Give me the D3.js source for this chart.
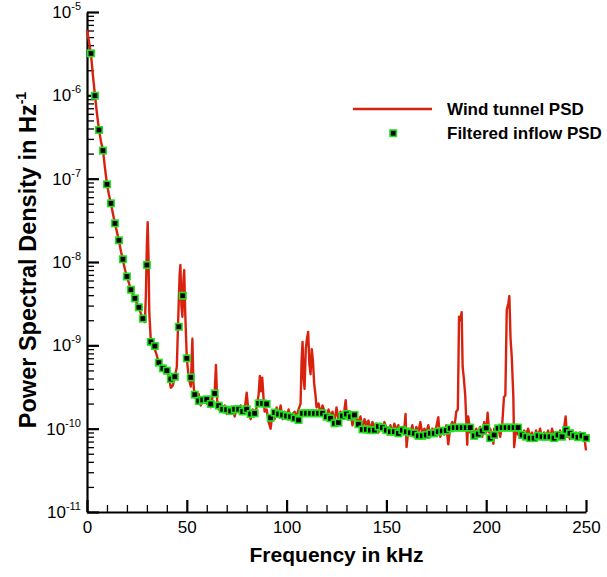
<!DOCTYPE html>
<html>
<head>
<meta charset="utf-8">
<script src="https://cdn.jsdelivr.net/npm/d3@7"></script>
<style>
  html, body { margin: 0; padding: 0; background: #fff; }
  svg { display: block; font-family: "Liberation Sans", Arial, Helvetica, sans-serif; }
  .ax path, .ax line { stroke: #000; }
</style>
</head>
<body>
<div id="chart"></div>
<script>
// Frequency (kHz) / PSD (Hz^-1) of the wind tunnel signal
const tunnelFreq = [
  0, 1, 2, 3, 4, 5, 6, 7, 8, 9, 10, 11, 12, 13, 14, 15, 16, 17, 18, 19, 20,
  21, 22, 23, 24, 25, 26, 27, 28, 29, 29.5, 30, 30.4, 30.8, 31.2, 32, 33, 34, 35, 36, 37,
  38, 39, 40, 41, 42, 43, 44, 45, 45.8, 46.4, 46.8, 47.3, 47.8, 48.3, 48.7, 49.2, 50, 51, 52,
  52.8, 53.3, 54, 55, 56, 57, 58, 59, 60, 61, 62, 63, 64, 64.6, 65.2, 66, 67, 68, 69, 70,
  71, 72, 73, 74, 75, 76, 77, 78, 79, 80, 81, 82, 83, 84, 85, 86, 86.6, 87.2, 87.8, 88.5,
  89, 90, 91, 92, 93, 94, 95, 96, 97, 98, 99, 100, 101, 102, 103, 104, 105, 106, 107, 107.5,
  108, 108.5, 109, 109.6, 110.2, 110.8, 111.4, 112, 112.6, 113.2, 113.8, 114.5, 115, 116, 117, 118, 119, 120,
  121, 122, 123, 124, 125, 126, 127, 128, 129, 129.6, 130.2, 131, 132, 133, 134, 135, 136, 137, 138, 139,
  140, 141, 142, 143, 144, 145, 146, 147, 148, 149, 150, 151, 152, 153, 154, 155, 156, 157, 158, 159,
  159.6, 160.1, 161, 162, 163, 164, 165, 166, 167, 168, 169, 170, 171, 172, 173, 174, 175, 176, 176.6, 177,
  178, 179, 180, 181, 182, 183, 184, 185, 185.8, 186.4, 187, 187.7, 188.2, 188.8, 189.5, 190.5, 191, 192, 193, 194,
  195, 196, 197, 198, 199, 200, 200.7, 201.5, 202, 203, 203.6, 204, 205, 206, 207, 208, 208.9, 209.6, 210.3, 211.1,
  211.6, 212.2, 212.8, 213.6, 214, 215, 216, 217, 218, 219, 220, 221, 222, 223, 224, 225, 226, 227, 228, 229,
  230, 231, 232, 233, 234, 235, 236, 237, 238, 239, 239.8, 240.5, 241, 242, 243, 244, 245, 246, 247, 248,
  249, 250
];
const tunnelPsd = [
  6.1e-6, 4.4e-6, 3.1e-6, 1.7e-6, 1.0e-6, 6.0e-7, 3.9e-7, 2.8e-7, 2.2e-7, 1.35e-7, 8.6e-8, 6.4e-8, 5.0e-8, 3.8e-8, 2.9e-8, 2.3e-8, 1.8e-8, 1.35e-8, 1.05e-8, 8.2e-9, 6.6e-9,
  5.6e-9, 4.6e-9, 4.1e-9, 3.6e-9, 3.2e-9, 2.8e-9, 2.4e-9, 2.1e-9, 1.9e-9, 4.0e-9, 1.6e-8, 3.0e-8, 1.2e-8, 2.5e-9, 1.1e-9, 9.5e-10, 9.0e-10, 7.5e-10, 6.0e-10, 5.6e-10,
  5.1e-10, 4.6e-10, 5.0e-10, 4.2e-10, 3.1e-10, 3.3e-10, 4.2e-10, 5.5e-10, 2.5e-9, 7.0e-9, 9.2e-9, 3.0e-9, 2.2e-9, 6.0e-9, 8.0e-9, 2.5e-9, 7.0e-10, 4.0e-10, 3.2e-10,
  1.2e-9, 3.5e-10, 2.4e-10, 2.2e-10, 2.6e-10, 1.9e-10, 2.3e-10, 2.1e-10, 2.0e-10, 2.4e-10, 1.8e-10, 2.5e-10, 2.8e-10, 5.8e-10, 2.2e-10, 1.7e-10, 2.0e-10, 1.6e-10, 1.9e-10, 1.5e-10,
  1.8e-10, 1.6e-10, 1.7e-10, 1.4e-10, 1.8e-10, 1.6e-10, 1.9e-10, 1.5e-10, 1.7e-10, 2.7e-10, 1.5e-10, 1.3e-10, 1.7e-10, 1.5e-10, 1.8e-10, 2.6e-10, 4.3e-10, 2.8e-10, 4.1e-10, 2.2e-10,
  1.6e-10, 1.7e-10, 1.2e-10, 1.0e-10, 1.6e-10, 1.3e-10, 1.8e-10, 1.4e-10, 1.9e-10, 1.3e-10, 1.6e-10, 1.4e-10, 1.7e-10, 1.3e-10, 1.5e-10, 1.6e-10, 1.4e-10, 1.7e-10, 2.0e-10, 6.5e-10,
  1.1e-9, 4.0e-10, 3.0e-10, 9.0e-10, 1.2e-9, 1.45e-9, 6.0e-10, 4.5e-10, 9.0e-10, 6.5e-10, 3.5e-10, 2.5e-10, 1.8e-10, 2.0e-10, 1.5e-10, 1.9e-10, 1.6e-10, 1.3e-10,
  1.7e-10, 1.4e-10, 1.6e-10, 1.2e-10, 1.8e-10, 1.3e-10, 1.6e-10, 1.4e-10, 1.7e-10, 2.2e-10, 1.4e-10, 1.3e-10, 1.6e-10, 1.1e-10, 1.5e-10, 1.3e-10, 1.2e-10, 1.4e-10, 1.0e-10, 1.3e-10,
  1.1e-10, 1.25e-10, 9.5e-11, 1.2e-10, 1.05e-10, 1.15e-10, 9.0e-11, 1.1e-10, 9.5e-11, 1.2e-10, 1.0e-10, 8.5e-11, 1.1e-10, 9.0e-11, 1.15e-10, 9.5e-11, 1.1e-10, 8.5e-11, 1.05e-10, 1.0e-10,
  1.5e-10, 6.0e-11, 1.0e-10, 9.0e-11, 1.1e-10, 8.0e-11, 1.05e-10, 9.0e-11, 1.2e-10, 8.5e-11, 1.0e-10, 9.0e-11, 1.1e-10, 8.0e-11, 1.0e-10, 9.0e-11, 1.05e-10, 1.37e-10, 9.0e-11, 8.0e-11,
  1.0e-10, 8.5e-11, 1.1e-10, 6.5e-11, 1.05e-10, 1.2e-10, 1.0e-10, 1.6e-10, 1.7e-10, 2.2e-9, 2.0e-9, 2.5e-9, 5.5e-10, 4.0e-10, 2.5e-10, 6.4e-11, 1.4e-10, 9.0e-11, 1.1e-10, 8.0e-11,
  1.0e-10, 8.5e-11, 1.05e-10, 8.0e-11, 1.2e-10, 9.0e-11, 1.55e-10, 9.0e-11, 1.0e-10, 8.0e-11, 6.6e-11, 1.0e-10, 9.0e-11, 1.05e-10, 8.0e-11, 1.1e-10, 2.4e-10, 2.5e-10, 2.65e-9, 3.2e-9,
  3.9e-9, 1.2e-9, 7.3e-10, 2.4e-10, 6.0e-11, 1.0e-10, 8.5e-11, 1.0e-10, 8.0e-11, 9.5e-11, 8.5e-11, 1.0e-10, 8.0e-11, 9.0e-11, 7.5e-11, 9.5e-11, 8.0e-11, 1.0e-10, 7.5e-11, 9.0e-11,
  8.0e-11, 9.5e-11, 7.5e-11, 1.0e-10, 8.0e-11, 9.0e-11, 7.5e-11, 9.5e-11, 8.5e-11, 1.0e-10, 1.4e-10, 8.0e-11, 9.0e-11, 7.5e-11, 9.5e-11, 8.0e-11, 9.0e-11, 7.5e-11, 9.0e-11, 8.0e-11,
  8.5e-11, 5.5e-11
];

// Filtered inflow PSD, one marker every 2 kHz from 2 to 250 kHz
const inflowFreq = d3.range(2, 251, 2);
const inflowPsd = [
  3.19e-6, 9.9e-7, 3.84e-7, 2.17e-7, 8.55e-8, 5.06e-8, 2.91e-8, 1.82e-8, 1.08e-8, 6.7e-9,
  4.65e-9, 3.66e-9, 2.86e-9, 2.09e-9, 9.2e-9, 1.10e-9, 9.8e-10, 6.2e-10, 5.3e-10, 4.97e-10,
  3.94e-10, 4.2e-10, 1.67e-9, 3.94e-9, 6.98e-10, 4.13e-10, 2.56e-10, 2.15e-10, 2.21e-10, 2.25e-10,
  1.98e-10, 2.65e-10, 1.89e-10, 1.71e-10, 1.69e-10, 1.63e-10, 1.71e-10, 1.71e-10, 1.61e-10, 1.71e-10,
  1.50e-10, 1.53e-10, 2.01e-10, 2.01e-10, 1.98e-10, 1.35e-10, 1.56e-10, 1.50e-10, 1.46e-10, 1.42e-10,
  1.39e-10, 1.33e-10, 1.27e-10, 1.53e-10, 1.53e-10, 1.53e-10, 1.53e-10, 1.53e-10, 1.53e-10, 1.39e-10,
  1.33e-10, 1.16e-10, 1.18e-10, 1.42e-10, 1.50e-10, 1.39e-10, 1.46e-10, 1.13e-10, 9.8e-11, 9.8e-11,
  9.6e-11, 9.6e-11, 1.06e-10, 1.03e-10, 9.6e-11, 9.2e-11, 9.2e-11, 8.8e-11, 9.6e-11, 9.2e-11,
  8.95e-11, 8.8e-11, 8.2e-11, 8.2e-11, 8.4e-11, 8.8e-11, 8.8e-11, 9.2e-11, 9.4e-11, 9.5e-11,
  1.01e-10, 1.03e-10, 1.03e-10, 1.03e-10, 1.03e-10, 1.03e-10, 8.2e-11, 8.6e-11, 9.4e-11, 1.02e-10,
  7.7e-11, 8.4e-11, 1.01e-10, 1.03e-10, 1.03e-10, 1.03e-10, 1.03e-10, 1.03e-10, 8.4e-11, 8.0e-11,
  7.7e-11, 7.7e-11, 8.2e-11, 8.0e-11, 8.0e-11, 8.0e-11, 7.7e-11, 8.4e-11, 8.0e-11, 9.6e-11,
  8.8e-11, 8.2e-11, 7.9e-11, 8.2e-11, 7.7e-11
];

const xTicks = [0, 50, 100, 150, 200, 250];
const yExponents = [-11, -10, -9, -8, -7, -6, -5];
const legendLabels = ['Wind tunnel PSD', 'Filtered inflow PSD'];

const W = 607, H = 577;
const RED = '#d8220e', GREEN = '#22e022';

const svg = d3.select('#chart').append('svg').attr('width', W).attr('height', H);

const x = d3.scaleLinear().domain([0, 250]).range([87, 586]);
const y = d3.scaleLog().domain([1e-11, 1e-5]).range([512, 12]);

// minor ticks
const xMinor = d3.range(0, 251, 10).filter(v => v % 50 !== 0);
const yMinor = [];
yExponents.slice(0, -1).forEach(e => { for (let m = 2; m <= 9; m++) yMinor.push(m * Math.pow(10, e)); });

svg.append('g').attr('class', 'ax')
  .attr('transform', 'translate(0,512)')
  .call(d3.axisBottom(x).tickValues(xMinor).tickSize(-7).tickSizeOuter(0).tickFormat(''))
  .call(g => g.select('.domain').remove())
  .call(g => g.selectAll('line').attr('stroke-width', 1.3));

svg.append('g').attr('class', 'ax')
  .attr('transform', 'translate(87,0)')
  .call(d3.axisLeft(y).tickValues(yMinor).tickSize(-7).tickSizeOuter(0).tickFormat(''))
  .call(g => g.select('.domain').remove())
  .call(g => g.selectAll('line').attr('stroke-width', 1.3));

// major ticks and axis lines
const xAx = svg.append('g').attr('class', 'ax')
  .attr('transform', 'translate(0,512)')
  .call(d3.axisBottom(x).tickValues(xTicks).tickSize(-12).tickSizeOuter(0).tickPadding(21))
  .call(g => g.select('.domain').attr('stroke-width', 2.2))
  .call(g => g.selectAll('line').attr('stroke-width', 2.2));
xAx.selectAll('text').attr('font-size', 17).attr('fill', '#000')
  .attr('font-family', '"Liberation Sans", Arial, sans-serif').attr('dy', 0);

svg.append('g').attr('class', 'ax')
  .attr('transform', 'translate(87,0)')
  .call(d3.axisLeft(y).tickValues(yExponents.map(e => Math.pow(10, e))).tickSize(-12).tickSizeOuter(0).tickFormat(''))
  .call(g => g.select('.domain').attr('stroke-width', 2.2))
  .call(g => g.selectAll('line').attr('stroke-width', 2.2));

yExponents.forEach(e => {
  const t = svg.append('text')
    .attr('x', 81).attr('y', y(Math.pow(10, e)) + 6)
    .attr('text-anchor', 'end').attr('font-size', 17);
  t.append('tspan').text('10');
  t.append('tspan').attr('dy', -8).attr('font-size', 11).text(String(e));
});

// wind tunnel line
const tunnel = tunnelFreq.map((f, i) => [f, tunnelPsd[i]]);
svg.append('path')
  .datum(tunnel)
  .attr('fill', 'none')
  .attr('stroke', RED)
  .attr('stroke-width', 2.4)
  .attr('stroke-linejoin', 'round')
  .attr('d', d3.line().x(d => x(d[0])).y(d => y(d[1])));

// filtered inflow markers
svg.append('g').selectAll('rect')
  .data(inflowFreq.map((f, i) => [f, inflowPsd[i]]))
  .join('rect')
    .attr('x', d => x(d[0]) - 3.2)
    .attr('y', d => y(d[1]) - 3.2)
    .attr('width', 6.4).attr('height', 6.4)
    .attr('fill', '#000')
    .attr('stroke', GREEN)
    .attr('stroke-width', 1.6);

// axis titles
svg.append('text')
  .attr('x', 336.5).attr('y', 562)
  .attr('text-anchor', 'middle')
  .attr('font-size', 21).attr('font-weight', 'bold')
  .text('Frequency in kHz');

const yt = svg.append('text')
  .attr('transform', 'translate(36,260) rotate(-90)')
  .attr('text-anchor', 'middle')
  .attr('font-size', 23.5).attr('font-weight', 'bold');
yt.append('tspan').text('Power Spectral Density in Hz');
yt.append('tspan').attr('dy', -10).attr('font-size', 14).text('-1');

// legend
const lg = svg.append('g');
lg.append('line').attr('x1', 353).attr('x2', 432).attr('y1', 109).attr('y2', 109)
  .attr('stroke', RED).attr('stroke-width', 2.4);
lg.append('rect').attr('x', 390).attr('y', 130).attr('width', 6.4).attr('height', 6.4)
  .attr('fill', '#000').attr('stroke', GREEN).attr('stroke-width', 1.6);
lg.selectAll('text').data(legendLabels).join('text')
  .attr('x', 447).attr('y', (d, i) => 115 + i * 24)
  .attr('font-size', 17).attr('font-weight', 'bold')
  .text(d => d);
</script>
</body>
</html>
